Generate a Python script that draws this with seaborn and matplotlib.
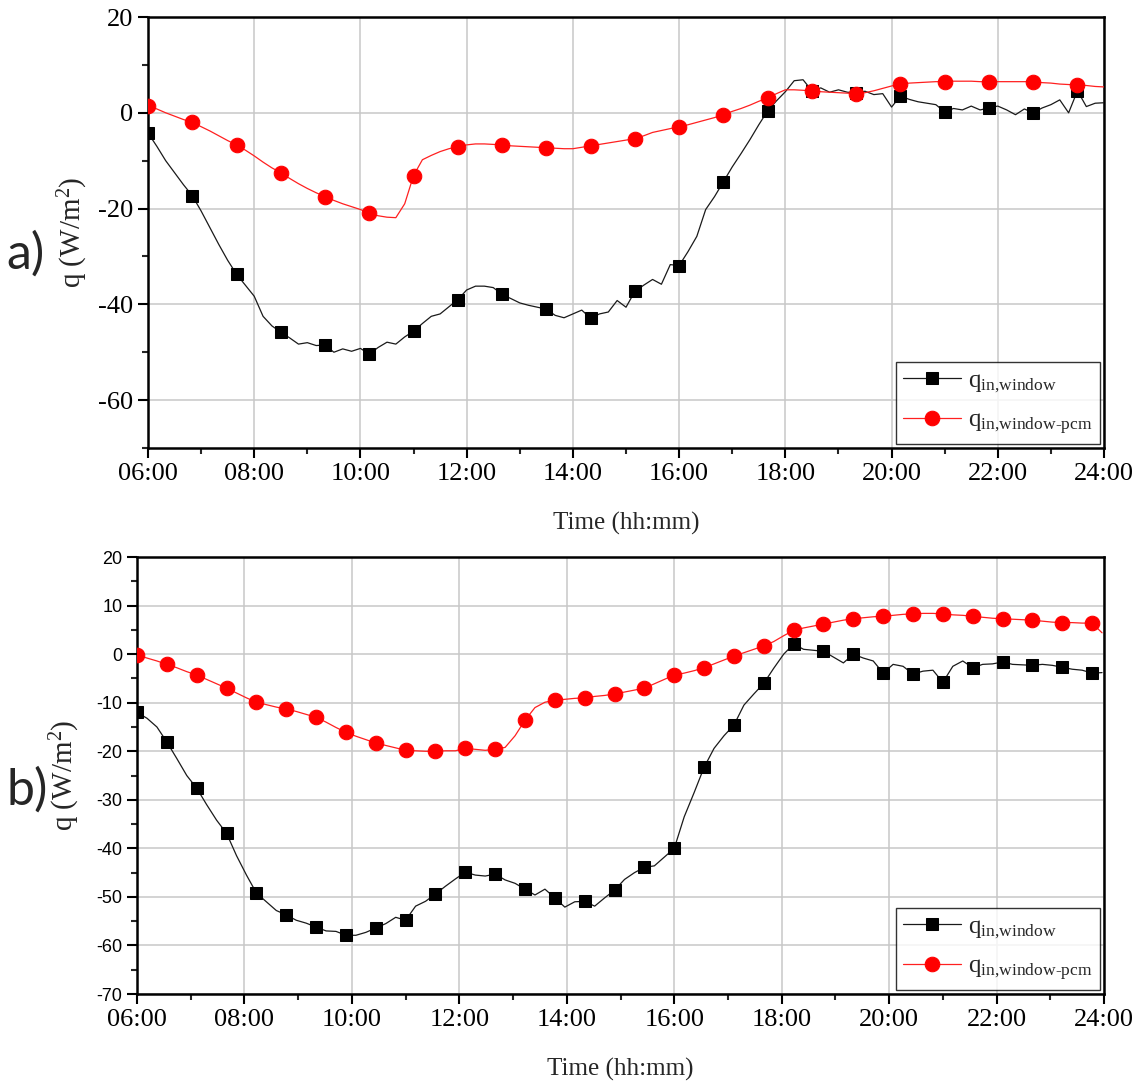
import numpy as np
import pandas as pd
import seaborn as sns
import matplotlib
matplotlib.use("Agg")
import matplotlib.pyplot as plt
from matplotlib.ticker import MultipleLocator, FuncFormatter

# dados - painel a) (passo de 10 min, marcadores a cada 50 min)
a_window = [-4.2, -7.0, -10.0, -12.5, -15.0, -17.3, -20.5, -24.0, -27.5, -30.8,
            -33.7, -36.0, -38.3, -42.5, -44.5, -45.8, -47.0, -48.3, -48.0, -48.6,
            -48.5, -50.0, -49.3, -49.8, -49.2, -50.4, -49.0, -47.9, -48.3, -46.8,
            -45.6, -44.0, -42.5, -42.0, -40.5, -39.0, -37.0, -36.2, -36.2, -36.5,
            -37.9, -38.8, -39.7, -40.2, -40.6, -41.0, -42.3, -42.8, -42.0, -41.2,
            -42.9, -42.0, -41.6, -39.2, -40.6, -37.3, -36.0, -34.8, -35.8, -31.7,
            -31.9, -29.0, -25.8, -20.2, -17.5, -14.4, -11.3, -8.5, -5.6, -2.5,
            0.4, 2.5, 4.4, 6.7, 6.9, 4.6, 5.2, 4.3, 4.8, 4.3,
            4.2, 4.5, 3.8, 4.0, 1.2, 3.5, 2.8, 2.3, 2.0, 1.7,
            0.2, 0.9, 0.6, 1.4, 0.6, 1.0, 1.4, 0.6, -0.4, 0.8,
            0.0, 1.0, 1.7, 2.7, 0.0, 4.6, 1.3, 2.0, 2.1]
a_pcm = [1.5, 0.8, 0.0, -0.7, -1.4, -2.0, -2.9, -3.8, -4.8, -5.8,
         -6.7, -7.8, -9.0, -10.3, -11.5, -12.5, -13.7, -14.8, -15.8, -16.7,
         -17.5, -18.3, -19.0, -19.6, -20.2, -21.0, -21.5, -21.8, -21.9, -19.0,
         -13.1, -9.8, -8.9, -8.1, -7.5, -7.1, -6.7, -6.5, -6.5, -6.6,
         -6.7, -6.9, -7.0, -7.1, -7.2, -7.3, -7.4, -7.5, -7.5, -7.2,
         -6.9, -6.6, -6.3, -6.0, -5.7, -5.4, -4.8, -4.1, -3.7, -3.3,
         -2.9, -2.5, -2.0, -1.5, -1.0, -0.4, 0.3, 0.9, 1.6, 2.4,
         3.1, 4.0, 4.8, 4.8, 4.7, 4.6, 4.4, 4.3, 4.2, 4.1,
         4.0, 4.2, 4.6, 5.1, 5.6, 6.0, 6.2, 6.3, 6.4, 6.5,
         6.5, 6.6, 6.6, 6.6, 6.5, 6.5, 6.5, 6.5, 6.5, 6.5,
         6.5, 6.3, 6.2, 6.0, 5.9, 5.8, 5.7, 5.5, 5.4]

# painel b) (passo de ~11 min, marcadores a cada ~33 min)
b_window = [-12.0, -13.2, -15.0, -18.1, -21.5, -25.0, -27.6, -31.0, -34.2, -36.9,
            -41.5, -45.5, -49.2, -51.0, -52.8, -53.7, -54.8, -55.4, -56.2, -57.0,
            -57.1, -57.9, -57.9, -57.3, -56.4, -55.5, -54.2, -54.8, -51.9, -50.9,
            -49.4, -47.8, -46.3, -44.9, -45.5, -45.7, -45.3, -46.5, -47.2, -48.4,
            -49.6, -48.4, -50.2, -52.1, -51.0, -50.9, -51.9, -50.2, -48.6, -46.4,
            -45.0, -43.9, -43.6, -41.8, -40.0, -33.5, -28.5, -23.3, -19.4, -16.8,
            -14.6, -10.5, -8.2, -6.0, -2.9, 0.0, 2.1, 1.0, 0.8, 0.6,
            -0.6, -1.8, 0.0, -0.8, -1.4, -3.9, -2.1, -2.5, -4.1, -3.5,
            -3.3, -5.8, -2.5, -1.4, -2.8, -2.1, -2.0, -1.6, -2.1, -2.2,
            -2.3, -2.1, -2.3, -2.7, -3.1, -3.3, -3.9, -3.8]
b_pcm = [-0.2, -0.8, -1.4, -2.1, -2.8, -3.6, -4.3, -5.2, -6.1, -7.0,
         -8.0, -9.0, -9.9, -10.4, -10.9, -11.3, -11.8, -12.4, -13.0, -14.0,
         -15.1, -16.1, -16.9, -17.6, -18.3, -18.8, -19.3, -19.8, -19.9, -20.0,
         -20.0, -19.9, -19.9, -19.4, -19.6, -19.8, -19.6, -19.2, -16.8, -13.6,
         -11.0, -9.9, -9.5, -9.3, -9.1, -9.0, -8.7, -8.5, -8.2, -7.8,
         -7.4, -7.0, -6.1, -5.2, -4.3, -3.9, -3.4, -2.8, -2.0, -1.2,
         -0.4, 0.3, 1.0, 1.7, 2.6, 3.8, 4.9, 5.4, 5.8, 6.2,
         6.6, 7.0, 7.3, 7.5, 7.7, 7.8, 8.0, 8.2, 8.3, 8.4,
         8.4, 8.3, 8.1, 8.0, 7.8, 7.6, 7.4, 7.3, 7.2, 7.1,
         7.0, 6.8, 6.6, 6.5, 6.5, 6.4, 6.4, 4.4]

# tempo em horas
t_a = 6 + np.arange(len(a_window)) / 6.0
t_b = 6 + np.arange(len(b_window)) / 5.4

lbl_window = r'q$_{\mathregular{in{,}window}}$'
lbl_pcm = r'q$_{\mathregular{in{,}window\text{-}pcm}}$'

sns.set_style("ticks")
plt.rcParams['font.family'] = ['Liberation Serif', 'DejaVu Serif']
plt.rcParams['axes.unicode_minus'] = False
plt.rcParams['mathtext.fontset'] = 'custom'
plt.rcParams['mathtext.rm'] = 'Liberation Serif'
plt.rcParams['mathtext.it'] = 'Liberation Serif'

fig = plt.figure(figsize=(11.41, 10.84), dpi=100)
ax1 = fig.add_axes([0.1297, 0.5867, 0.8379, 0.3976])
ax2 = fig.add_axes([0.1201, 0.0830, 0.8475, 0.4031])

df_a = pd.DataFrame({'t': t_a, 'w': a_window, 'p': a_pcm})
df_b = pd.DataFrame({'t': t_b, 'w': b_window, 'p': b_pcm})


def desenha(ax, df, every):
    sns.lineplot(data=df, x='t', y='w', ax=ax, color='#1a1a1a', lw=0.9,
                 marker='s', markersize=9, markevery=every, mec='black',
                 mfc='black', label=lbl_window, zorder=3)
    sns.lineplot(data=df, x='t', y='p', ax=ax, color='#ff2020', lw=0.9,
                 marker='o', markersize=10.5, markevery=every, mec='#ff0000',
                 mfc='#ff0000', label=lbl_pcm, zorder=3)
    ax.set_xlim(6, 24)
    ax.set_ylim(-70, 20)
    ax.xaxis.set_major_locator(MultipleLocator(2))
    ax.xaxis.set_minor_locator(MultipleLocator(1))
    ax.xaxis.set_major_formatter(FuncFormatter(lambda v, p: f"{int(round(v)):02d}:00"))
    ax.grid(True, which='major', color='#c8c8c8', lw=1.1)
    ax.set_axisbelow(True)
    for s in ax.spines.values():
        s.set_linewidth(1.8)
        s.set_color('black')
    ax.tick_params(which='major', direction='out', length=7, width=1.5,
                   labelsize=19, colors='black')
    ax.tick_params(which='minor', direction='out', length=4, width=1.5)
    ax.set_xlabel('Time (hh:mm)', fontsize=18, labelpad=20)
    leg = ax.legend(loc='lower right', fontsize=18, frameon=True, fancybox=False,
                    edgecolor='black', handlelength=2.3, borderaxespad=0.15,
                    labelspacing=0.6, handletextpad=0.3, borderpad=0.3)
    leg.get_frame().set_linewidth(1.0)


# painel a)
ax1.yaxis.set_major_locator(MultipleLocator(20))
ax1.yaxis.set_minor_locator(MultipleLocator(10))
desenha(ax1, df_a, 5)
ax1.yaxis.set_major_formatter(FuncFormatter(lambda v, p: f"{int(v)}" if v > -70 else ""))
ax1.set_ylabel(r'q (W/m$^2$)', fontsize=21, labelpad=6)

# painel b)
ax2.yaxis.set_major_locator(MultipleLocator(10))
ax2.yaxis.set_minor_locator(MultipleLocator(5))
desenha(ax2, df_b, 3)
ax2.yaxis.set_major_formatter(FuncFormatter(lambda v, p: f"{int(v)}"))
for lab in ax2.get_yticklabels():
    lab.set_fontfamily('Liberation Sans')
    lab.set_fontsize(13)
ax2.set_ylabel(r'q (W/m$^2$)', fontsize=21, labelpad=10)

fig.text(0.006, 0.752, 'a)', fontsize=36, family='Lato')
fig.text(0.006, 0.258, 'b)', fontsize=36, family='Lato')

fig.savefig('out.png', dpi=100)
